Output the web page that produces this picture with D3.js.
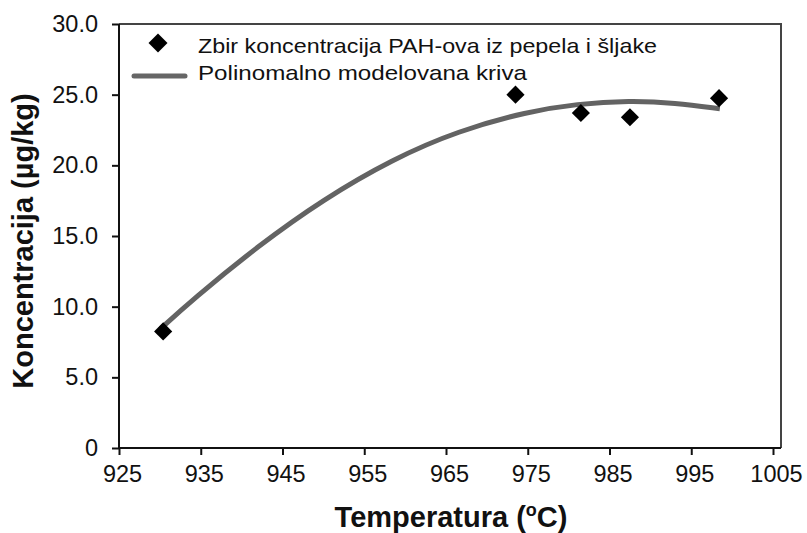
<!DOCTYPE html>
<html><head><meta charset="utf-8">
<script src="https://cdn.jsdelivr.net/npm/d3@7"></script>
<style>
body{margin:0;background:#fff;}
svg{display:block;font-family:"Liberation Sans",Arial,sans-serif;}
</style></head>
<body><svg id="c" width="807" height="533"></svg>
<script>
// Measured data (temperature °C, concentration µg/kg)
const tempPoints = [930.4, 973.5, 981.5, 987.5, 998.4];
const concPoints = [8.25, 25.0, 23.7, 23.4, 24.75];
// Polynomial model curve
const curveTemp = [930.0, 934.0, 942.0, 950.0, 958.5, 966.5, 975.0, 981.0, 987.5, 993.0, 998.5];
const curveConc = [8.4, 10.5, 14.3, 17.6, 20.45, 22.45, 23.8, 24.35, 24.57, 24.42, 24.0];
const xTicks = [925, 935, 945, 955, 965, 975, 985, 995, 1005];
const yTicks = [0, 5, 10, 15, 20, 25, 30];
const legendLabels = ["Zbir koncentracija PAH-ova iz pepela i šljake", "Polinomalno modelovana kriva"];
const legendWidths = [459, 329];
const xTitle = "Temperatura (";
const yTitle = "Koncentracija (µg/kg)";

const svg = d3.select("#c");
const x = d3.scaleLinear().domain([925, 1005]).range([119, 773]);
const y = d3.scaleLinear().domain([0, 30]).range([448, 24]);
const xRight = 781;

// frame (top & right)
svg.append("path")
  .attr("d", `M${x(925)},${y(30)}H${xRight}V${y(0)}`)
  .attr("fill", "none").attr("stroke", "#444").attr("stroke-width", 2);

// x axis
const xa = svg.append("g").attr("transform", `translate(0,${y(0)})`)
  .call(d3.axisBottom(x).tickValues(xTicks).tickSize(7).tickSizeOuter(0).tickPadding(10).tickFormat(d3.format("d")));
xa.select(".domain").attr("d", `M${x(925)},0H${xRight}`).attr("stroke", "#111").attr("stroke-width", 2);
xa.selectAll(".tick line").attr("stroke", "#111").attr("stroke-width", 2);
xa.selectAll(".tick text").attr("font-size", 23.5).attr("fill", "#111").attr("dx", 3)
  .attr("font-family", "Liberation Sans, Arial, sans-serif");

// y axis
const ya = svg.append("g").attr("transform", `translate(${x(925)},0)`)
  .call(d3.axisLeft(y).tickValues(yTicks).tickSize(7).tickSizeOuter(0).tickPadding(14)
    .tickFormat(d => d === 0 ? "0" : d3.format(".1f")(d)));
ya.select(".domain").attr("d", `M0,${y(30)}V${y(0)}`).attr("stroke", "#111").attr("stroke-width", 2);
ya.selectAll(".tick line").attr("stroke", "#111").attr("stroke-width", 2);
ya.selectAll(".tick text").attr("font-size", 23.5).attr("fill", "#111")
  .attr("font-family", "Liberation Sans, Arial, sans-serif");

// curve
const curveData = curveTemp.map((t, i) => [t, curveConc[i]]);
svg.append("path").datum(curveData)
  .attr("d", d3.line().x(d => x(d[0])).y(d => y(d[1])).curve(d3.curveBasis))
  .attr("fill", "none").attr("stroke", "#636363").attr("stroke-width", 5);

// points
const diamond = d3.symbol().type(d3.symbolSquare).size(165);
svg.selectAll("path.pt").data(tempPoints.map((t, i) => [t, concPoints[i]])).join("path")
  .attr("class", "pt").attr("d", diamond)
  .attr("transform", d => `translate(${x(d[0])},${y(d[1])}) rotate(45)`)
  .attr("fill", "#000");

// legend
svg.append("path").attr("d", d3.symbol().type(d3.symbolSquare).size(180))
  .attr("transform", "translate(158,43) rotate(45)").attr("fill", "#000");
svg.append("line").attr("x1", 134).attr("x2", 185).attr("y1", 76).attr("y2", 76)
  .attr("stroke", "#666").attr("stroke-width", 5).attr("stroke-linecap", "round");
svg.selectAll("text.leg").data(legendLabels).join("text").attr("class", "leg")
  .attr("x", 198).attr("y", (d, i) => 53 + i * 27)
  .attr("font-size", 21).attr("fill", "#111")
  .attr("textLength", (d, i) => legendWidths[i]).attr("lengthAdjust", "spacingAndGlyphs")
  .text(d => d);

// axis titles
const xt = svg.append("text").attr("x", 451).attr("y", 527).attr("text-anchor", "middle")
  .attr("font-size", 29).attr("font-weight", "bold").attr("fill", "#111");
xt.append("tspan").text(xTitle);
xt.append("tspan").attr("font-size", 18).attr("dy", -11).text("o");
xt.append("tspan").attr("dy", 11).text("C)");

svg.append("text").attr("transform", "translate(33,241) rotate(-90)").attr("text-anchor", "middle")
  .attr("font-size", 29).attr("font-weight", "bold").attr("fill", "#111").text(yTitle);
</script></body></html>
